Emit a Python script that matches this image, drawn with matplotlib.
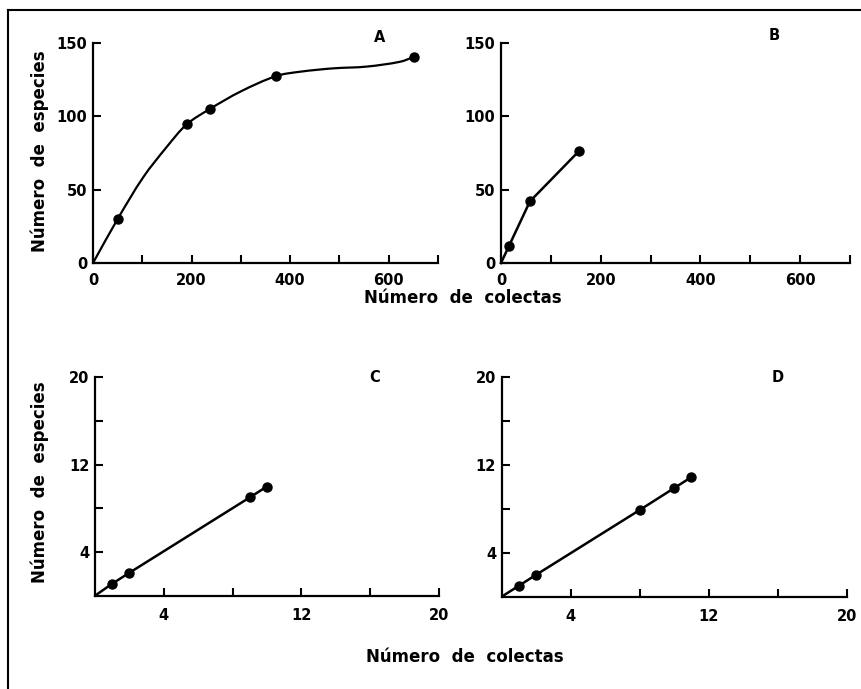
from matplotlib import pyplot as plt
from matplotlib.path import Path
from matplotlib.patches import PathPatch
from matplotlib.lines import Line2D
import numpy as np

a_x = [50, 190, 237, 372, 652]
a_y = [30, 94.5, 105, 127.5, 140.6]
a_curve_x = [0, 50, 102, 150, 190, 237, 300, 372, 420, 487, 555, 623, 652]
a_curve_y = [0, 30, 58.5, 79.3, 94.5, 105, 117, 127.5, 130.4, 132.7, 133.9, 137.2, 140.6]

# panel B
b_x = [0, 16, 58, 157]
b_y = [0, 11.6, 42, 76.5]

# panel C
c_x = [0, 1, 2, 9, 10]
c_y = [0, 1.1, 2.1, 9, 10]

# panel D
d_x = [0, 1, 2, 8, 10, 11]
d_y = [0, 1, 2, 7.9, 9.9, 10.9]

big_ticks = [0, 100, 200, 300, 400, 500, 600, 700]
big_labels = ['0', '', '200', '', '400', '', '600', '']
small_ticks = [4, 8, 12, 16, 20]
small_labels = ['4', '', '12', '', '20']

plt.rcParams['font.family'] = 'DejaVu Sans'
plt.rcParams['font.weight'] = 'bold'

fig = plt.figure(figsize=(8.62, 6.89), dpi=100)


def style(ax):
    for s in ['top', 'right']:
        ax.spines[s].set_visible(False)
    for s in ['left', 'bottom']:
        ax.spines[s].set_linewidth(1.6)
    ax.tick_params(direction='in', length=6, width=1.5, labelsize=10.5)
    ax.tick_params(axis='x', pad=7)
    ax.tick_params(axis='y', pad=4)
    ax.set_facecolor('none')


def smooth_path(xs, ys, sx, sy):
    # hermite curve through the read points, tangents by chord length,
    # worked out in roughly pixel units so both axes weigh the same
    pts = np.column_stack([np.array(xs) * sx, np.array(ys) * sy]).astype(float)
    n = len(pts)
    t = np.concatenate([[0], np.cumsum(np.hypot(*np.diff(pts, axis=0).T))])
    m = np.zeros_like(pts)
    m[0] = (pts[1] - pts[0]) / (t[1] - t[0])
    m[-1] = (pts[-1] - pts[-2]) / (t[-1] - t[-2])
    for i in range(1, n - 1):
        m[i] = (pts[i + 1] - pts[i - 1]) / (t[i + 1] - t[i - 1])
    verts = [pts[0]]
    codes = [Path.MOVETO]
    for i in range(n - 1):
        h = t[i + 1] - t[i]
        verts += [pts[i] + m[i] * h / 3, pts[i + 1] - m[i + 1] * h / 3, pts[i + 1]]
        codes += [Path.CURVE4] * 3
    verts = np.array(verts) / [sx, sy]
    return Path(verts, codes)


axA = fig.add_axes([0.1079, 0.6183, 0.4002, 0.3193])
axB = fig.add_axes([0.5812, 0.6183, 0.4049, 0.3193])
axC = fig.add_axes([0.1102, 0.1354, 0.3990, 0.3170])
axD = fig.add_axes([0.5820, 0.1340, 0.4002, 0.3184])

for ax in [axA, axB]:
    style(ax)
    ax.set_xlim(0, 700)
    ax.set_ylim(0, 150)
    ax.set_xticks(big_ticks)
    ax.set_xticklabels(big_labels)
    ax.set_yticks([0, 50, 100, 150])

for ax in [axC, axD]:
    style(ax)
    ax.set_xlim(0, 20)
    ax.set_ylim(0, 20)
    ax.set_xticks(small_ticks)
    ax.set_xticklabels(small_labels)
    ax.set_yticks(small_ticks)
    ax.set_yticklabels(small_labels)
    ax.tick_params(axis='x', pad=9)

axA.add_patch(PathPatch(smooth_path(a_curve_x, a_curve_y, 345 / 700, 220 / 150),
                        fill=False, lw=1.6, edgecolor='black', zorder=2))
axA.plot(a_x, a_y, 'o', color='black', ms=6.5, clip_on=False, zorder=3)
axB.plot(b_x, b_y, '-o', color='black', lw=1.8, ms=6.5, markevery=[1, 2, 3], clip_on=False)
axC.plot(c_x, c_y, '-o', color='black', lw=1.8, ms=6.5, markevery=[1, 2, 3, 4])
axD.plot(d_x, d_y, '-o', color='black', lw=1.8, ms=6.5, markevery=[1, 2, 3, 4, 5])

# panel letters
fig.text(380 / 862, 1 - 37 / 689, 'A', ha='center', va='center', fontsize=10.5)
fig.text(774 / 862, 1 - 36 / 689, 'B', ha='center', va='center', fontsize=10.5)
fig.text(375 / 862, 1 - 377 / 689, 'C', ha='center', va='center', fontsize=10.5)
fig.text(778 / 862, 1 - 377 / 689, 'D', ha='center', va='center', fontsize=10.5)

# shared axis labels
fig.text(463 / 862, 1 - 298 / 689, 'Número  de  colectas', ha='center', va='center', fontsize=12)
fig.text(465 / 862, 1 - 657 / 689, 'Número  de  colectas', ha='center', va='center', fontsize=12)
fig.text(40 / 862, 1 - 151 / 689, 'Número  de  especies', ha='center', va='center', rotation=90, fontsize=12)
fig.text(40 / 862, 1 - 482 / 689, 'Número  de  especies', ha='center', va='center', rotation=90, fontsize=12)

# frame of the scanned page (left and top edges)
fig.add_artist(Line2D([8 / 862, 8 / 862], [0, 1 - 10 / 689], color='black', lw=1.5))
fig.add_artist(Line2D([8 / 862, 1], [1 - 10 / 689, 1 - 10 / 689], color='black', lw=1.5))

plt.savefig('out.png', dpi=100)
